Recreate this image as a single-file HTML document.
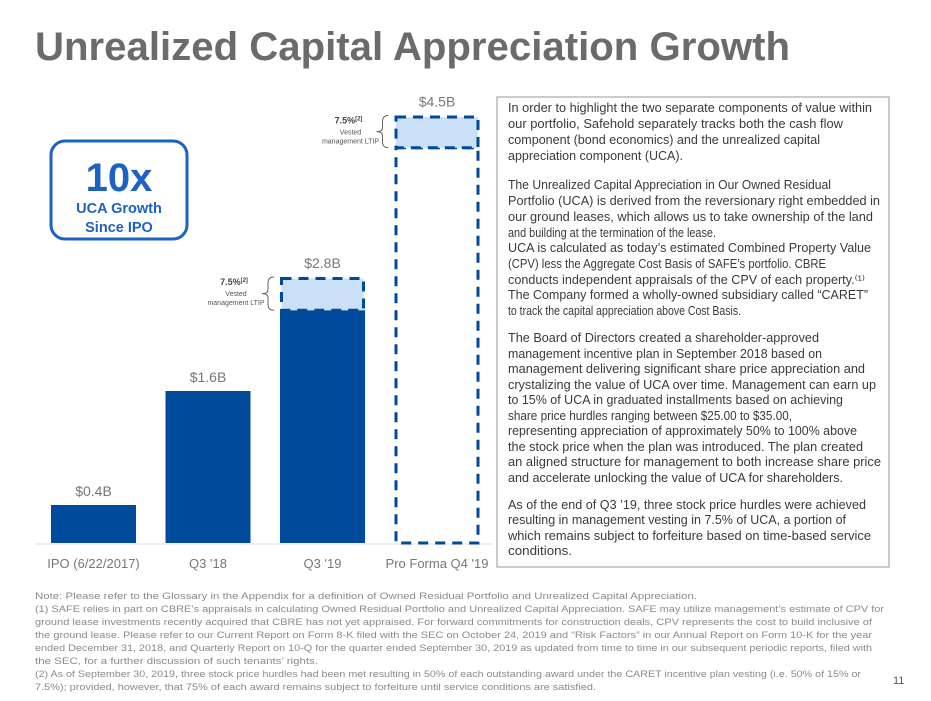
<!DOCTYPE html>
<html><head><meta charset="utf-8"><style>
html,body{margin:0;padding:0;background:#fff;}
svg{display:block;font-family:"Liberation Sans",sans-serif;}
</style></head><body>
<svg id="chart" width="931" height="701" viewBox="0 0 931 701" xmlns="http://www.w3.org/2000/svg">
<text x="35" y="60" font-size="40" font-weight="bold" fill="#6b6b6b" textLength="755" lengthAdjust="spacingAndGlyphs">Unrealized Capital Appreciation Growth</text>

<g>
<rect x="51" y="141" width="136" height="98" rx="14" fill="none" stroke="#1c62c4" stroke-width="3"/>
<text x="119" y="191" text-anchor="middle" font-size="40" font-weight="bold" fill="#1c62c4">10x</text>
<text x="119" y="213" text-anchor="middle" font-size="14.5" font-weight="bold" fill="#1c62c4">UCA Growth</text>
<text x="119" y="232" text-anchor="middle" font-size="14.5" font-weight="bold" fill="#1c62c4">Since IPO</text>
</g>

<line x1="35" y1="544" x2="492" y2="544" stroke="#e2e2e2" stroke-width="1"/>
<g id="bars"></g>

<rect x="497" y="97" width="392" height="470" fill="none" stroke="#9a9a9a" stroke-width="1"/>
<g id="para" font-size="12.5" fill="#3a3a3a"></g>
<g id="notes" font-size="9" fill="#8a8a8a"></g>
<text x="893" y="684" font-size="11" fill="#555">11</text>
</svg>
<script>
const categories = ["IPO (6/22/2017)", "Q3 '18", "Q3 '19", "Pro Forma Q4 '19"];
const totals = [0.4, 1.6, 2.8, 4.5];
const ltip = [0, 0, 0.35, 0.34];
const proForma = [false, false, false, true];
const valueLabels = ["$0.4B", "$1.6B", "$2.8B", "$4.5B"];

const NS = "http://www.w3.org/2000/svg";
const baseY = 543, pxPerB = 95, x0 = 51, step = 114.5, bw = 85;
const yScale = v => baseY - v * pxPerB;
const xScale = i => x0 + i * step;
const g = document.getElementById('bars');
function mk(tag, attrs, parent) {
  const e = document.createElementNS(NS, tag);
  for (const k in attrs) e.setAttribute(k, attrs[k]);
  parent.appendChild(e);
  return e;
}
categories.forEach((c, i) => {
  const x = xScale(i), top = yScale(totals[i]), lt = yScale(totals[i] - ltip[i]);
  if (!proForma[i]) {
    const r = mk('rect', {x: x, y: lt, width: bw, height: baseY - lt, fill: '#004a9c'}, g);
    
    
  } else {
    const r = mk('rect', {x: x + 1.5, y: lt, width: bw - 3, height: baseY - lt, fill: 'none', stroke: '#004a9c', 'stroke-width': 3, 'stroke-dasharray': '10,7'}, g);
    
    
  }
  if (ltip[i] > 0) {
    const r2 = mk('rect', {x: x + 1.5, y: top + 1.5, width: bw - 3, height: lt - top - 1.5, fill: '#c9e0f7', stroke: '#004a9c', 'stroke-width': 3, 'stroke-dasharray': '10,7'}, g);
    
    
    const bx = x - 6, my = (top + lt) / 2;
    const br = mk('path', {d: `M${bx} ${top} q-6 0 -6 6 v${my - top - 10} q0 4 -6 4 q6 0 6 4 v${lt - my - 10} q0 6 6 6`, fill: 'none', stroke: '#666', 'stroke-width': 1}, g);
    
    
    const ax = bx - 40;
    const t1 = mk('text', {x: ax, y: top + 8, 'text-anchor': 'middle', 'font-size': 9, 'font-weight': 'bold', fill: '#444'}, g);
    t1.textContent = '7.5%';
    const sup = mk('tspan', {'font-size': 6, dy: -3}, t1); sup.textContent = '[2]';
    
    
    const t2 = mk('text', {x: ax + 2, y: top + 19, 'text-anchor': 'middle', 'font-size': 7, fill: '#555'}, g);
    t2.textContent = 'Vested';
    
    
    const t3 = mk('text', {x: ax + 2, y: top + 28, 'text-anchor': 'middle', 'font-size': 7, fill: '#555'}, g);
    t3.textContent = 'management LTIP';
    
    
  }
  const vl = mk('text', {x: x + bw / 2, y: top - 9, 'text-anchor': 'middle', 'font-size': 14, fill: '#777'}, g);
  vl.textContent = valueLabels[i];
  
  
  const cl = mk('text', {x: x + bw / 2, y: 568, 'text-anchor': 'middle', 'font-size': 13, fill: '#777'}, g);
  cl.textContent = c;
  
  
});

const para = [
 ["In order to highlight the two separate components of value within",364,112],
 ["our portfolio, Safehold separately tracks both the cash flow",335,128],
 ["component (bond economics) and the unrealized capital",312,144],
 ["appreciation component (UCA).",175,160],
 ["The Unrealized Capital Appreciation in Our Owned Residual",323,189],
 ["Portfolio (UCA) is derived from the reversionary right embedded in",372,205],
 ["our ground leases, which allows us to take ownership of the land",365,221],
 ["and building at the termination of the lease.",208,237],
 ["UCA is calculated as today\u2019s estimated Combined Property Value",363,252],
 ["(CPV) less the Aggregate Cost Basis of SAFE\u2019s portfolio. CBRE",318,268],
 ["conducts independent appraisals of the CPV of each property.\u207D\u00B9\u207E",357,284],
 ["The Company formed a wholly-owned subsidiary called \u201CCARET\u201D",360,299],
 ["to track the capital appreciation above Cost Basis.",233,315],
 ["The Board of Directors created a shareholder-approved",311,342],
 ["management incentive plan in September 2018 based on",314,358],
 ["management delivering significant share price appreciation and",357,373],
 ["crystalizing the value of UCA over time. Management can earn up",368,389],
 ["to 15% of UCA in graduated installments based on achieving",335,404],
 ["share price hurdles ranging between $25.00 to $35.00,",284,420],
 ["representing appreciation of approximately 50% to 100% above",349,435],
 ["the stock price when the plan was introduced. The plan created",355,451],
 ["an aligned structure for management to both increase share price",373,466],
 ["and accelerate unlocking the value of UCA for shareholders.",335,482],
 ["As of the end of Q3 \u201919, three stock price hurdles were achieved",358,509],
 ["resulting in management vesting in 7.5% of UCA, a portion of",338,524],
 ["which remains subject to forfeiture based on time-based service",363,540],
 ["conditions.",64,555]
];
const pg = document.getElementById('para');
para.forEach((l, i) => {
  const t = mk('text', {x: 508, y: l[2], textLength: l[1], lengthAdjust: 'spacingAndGlyphs'}, pg);
  t.textContent = l[0];
  
  
});
const notes = [
 ["Note: Please refer to the Glossary in the Appendix for a definition of Owned Residual Portfolio and Unrealized Capital Appreciation.",662,599],
 ["(1) SAFE relies in part on CBRE\u2019s appraisals in calculating Owned Residual Portfolio and Unrealized Capital Appreciation. SAFE may utilize management\u2019s estimate of CPV for",849,612],
 ["ground lease investments recently acquired that CBRE has not yet appraised. For forward commitments for construction deals, CPV represents the cost to build inclusive of",837,625],
 ["the ground lease. Please refer to our Current Report on Form 8-K filed with the SEC on October 24, 2019 and \u201CRisk Factors\u201D in our Annual Report on Form 10-K for the year",837,638],
 ["ended December 31, 2018, and Quarterly Report on 10-Q for the quarter ended September 30, 2019 as updated from time to time in our subsequent periodic reports, filed with",837,651],
 ["the SEC, for a further discussion of such tenants\u2019 rights.",283,664],
 ["(2) As of September 30, 2019, three stock price hurdles had been met resulting in 50% of each outstanding award under the CARET incentive plan vesting (i.e. 50% of 15% or",826,677],
 ["7.5%); provided, however, that 75% of each award remains subject to forfeiture until service conditions are satisfied.",561,690]
];
const ng = document.getElementById('notes');
notes.forEach(l => {
  const t = mk('text', {x: 35, y: l[2], textLength: l[1], lengthAdjust: 'spacingAndGlyphs'}, ng);
  t.textContent = l[0];
  
  
});
</script>
</body></html>
